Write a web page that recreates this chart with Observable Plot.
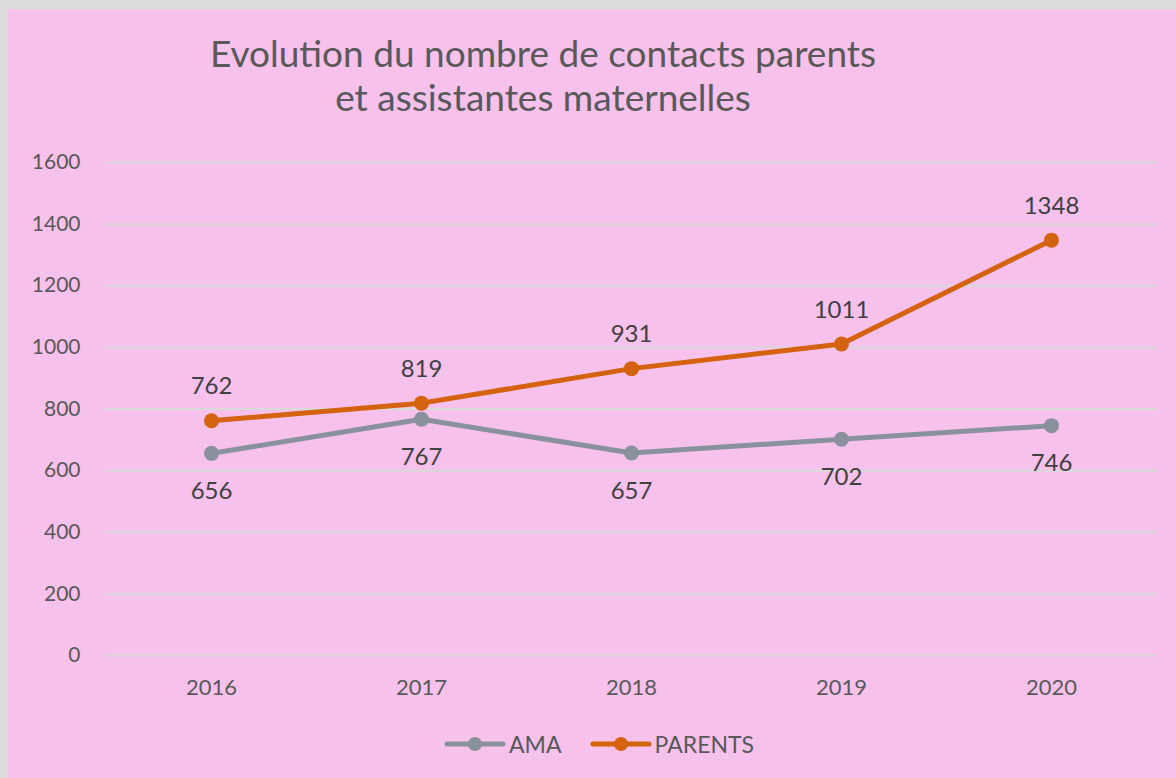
<!DOCTYPE html>
<html>
<head>
<meta charset="utf-8">
<script src="https://cdn.jsdelivr.net/npm/d3@7"></script>
<script src="https://cdn.jsdelivr.net/npm/@observablehq/plot@0.6"></script>
<style>
  html, body { margin: 0; padding: 0; background: #dcdcdc; }
  #wrap { position: absolute; left: 8px; top: 9px; width: 1168px; height: 769px; background: #F6C1EA; font-family: Lato, "Open Sans", sans-serif; color: #595959; }
  #title { position: absolute; left: 0; top: 22px; width: 1070px; text-align: center; font-size: 37px; line-height: 44px; color: #595959; }
  #chart { position: absolute; left: -8px; top: 131px; }
  #legend { position: absolute; left: 0; top: 721px; width: 1168px; display: flex; justify-content: center; gap: 28px; font-size: 23px; color: #595959; padding-left: 14px; box-sizing: border-box; }
  .item { display: flex; align-items: center; gap: 3px; }
</style>
</head>
<body>
<div id="wrap">
  <div id="title">Evolution du nombre de contacts parents<br>et assistantes maternelles</div>
  <div id="chart"></div>
  <div id="legend"></div>
</div>
<script>
const years = ["2016", "2017", "2018", "2019", "2020"];
const ama = [656, 767, 657, 702, 746];
const parents = [762, 819, 931, 1011, 1348];
const yTicks = [0, 200, 400, 600, 800, 1000, 1200, 1400, 1600];
const seriesNames = ["AMA", "PARENTS"];
const seriesColors = ["#89929C", "#D4620E"];

const data = [
  ...years.map((y, i) => ({year: y, value: ama[i], series: "AMA"})),
  ...years.map((y, i) => ({year: y, value: parents[i], series: "PARENTS"}))
];
const amaData = data.filter(d => d.series === "AMA");
const parData = data.filter(d => d.series === "PARENTS");

const chart = Plot.plot({
  width: 1176,
  height: 575,
  marginTop: 22,
  marginBottom: 60,
  marginLeft: 105,
  marginRight: 19,
  style: { background: "transparent", fontFamily: "Lato, 'Open Sans', sans-serif", fontSize: "21px", color: "#595959" },
  x: { type: "point", domain: years, padding: 0.5, label: null },
  y: { domain: [0, 1600], ticks: yTicks, label: null },
  color: { domain: seriesNames, range: seriesColors },
  marks: [
    Plot.ruleY(yTicks, { stroke: "#D9D9D9", strokeWidth: 2 }),
    Plot.axisY({ ticks: yTicks, tickFormat: d => String(d), tickSize: 0, tickPadding: 25, fontSize: 21, fill: "#595959", label: null }),
    Plot.axisX({ tickSize: 0, tickPadding: 24, fontSize: 22, fill: "#595959", label: null }),
    Plot.line(data, { x: "year", y: "value", z: "series", stroke: "series", strokeWidth: 5 }),
    Plot.dot(data, { x: "year", y: "value", fill: "series", r: 7.5 }),
    Plot.text(parData, { x: "year", y: "value", text: d => String(d.value), dy: -34, fontSize: 24, fill: "#404040" }),
    Plot.text(amaData, { x: "year", y: "value", text: d => String(d.value), dy: 38, fontSize: 24, fill: "#404040" })
  ]
});
document.getElementById("chart").appendChild(chart);

const legend = document.getElementById("legend");
seriesNames.forEach((name, i) => {
  const item = document.createElement("div");
  item.className = "item";
  item.innerHTML = `<svg width="62" height="20"><line x1="3" y1="10" x2="59" y2="10" stroke="${seriesColors[i]}" stroke-width="5" stroke-linecap="round"/><circle cx="31" cy="10" r="7" fill="${seriesColors[i]}"/></svg><span>${name}</span>`;
  legend.appendChild(item);
});
</script>
</body>
</html>
